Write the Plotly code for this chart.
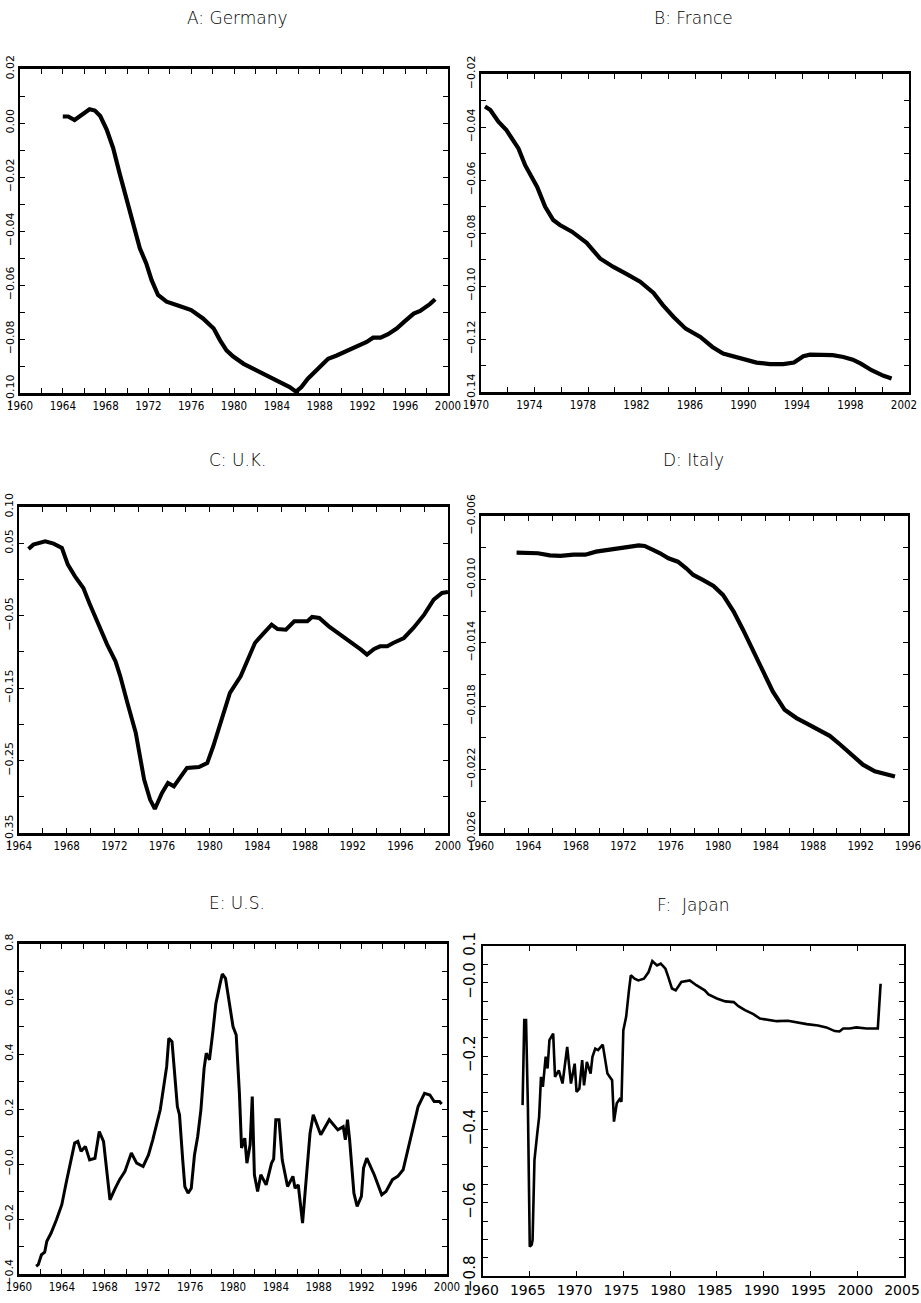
import plotly.graph_objects as go

# ---------------- data ----------------
germany_year = [1964.0, 1964.5, 1965.1, 1965.8, 1966.5, 1967.0, 1967.5, 1968.1, 1968.7, 1969.3,
                1970.0, 1970.6, 1971.2, 1971.8, 1972.3, 1972.9, 1973.7, 1974.9, 1976.0, 1977.1,
                1978.1, 1978.7, 1979.3, 1979.9, 1980.9, 1982.1, 1983.1, 1984.3, 1985.2, 1985.8,
                1986.3, 1986.9, 1988.0, 1988.8, 1989.6, 1990.5, 1991.5, 1992.4, 1993.0, 1993.7,
                1994.4, 1995.2, 1996.0, 1996.8, 1997.4, 1997.9, 1998.3, 1998.8]
germany_val = [0.0024, 0.0024, 0.0011, 0.0029, 0.0051, 0.0046, 0.0026, -0.0024, -0.0092, -0.0185,
               -0.0284, -0.0383, -0.0464, -0.0520, -0.0582, -0.0637, -0.0662, -0.0678, -0.0693, -0.0724,
               -0.0761, -0.0805, -0.0842, -0.0864, -0.0892, -0.0916, -0.0935, -0.0960, -0.0978, -0.0995,
               -0.0978, -0.0947, -0.0904, -0.0873, -0.0861, -0.0844, -0.0826, -0.0811, -0.0795, -0.0795,
               -0.0782, -0.0761, -0.0733, -0.0706, -0.0696, -0.0683, -0.0671, -0.0653]

france_year = [1970.3, 1970.7, 1971.3, 1971.9, 1972.8, 1973.3, 1974.2, 1974.8, 1975.4, 1975.9,
               1976.8, 1977.9, 1978.9, 1979.9, 1980.9, 1981.9, 1982.9, 1983.6, 1984.4, 1985.3,
               1986.4, 1987.3, 1988.1, 1988.9, 1989.7, 1990.6, 1991.6, 1992.6, 1993.4, 1994.1,
               1994.6, 1995.6, 1996.3, 1997.1, 1997.8, 1998.4, 1999.2, 2000.1, 2000.7]
france_val = [-0.0323, -0.0336, -0.0380, -0.0412, -0.0481, -0.0544, -0.0626, -0.0701, -0.0751, -0.0770,
              -0.0795, -0.0837, -0.0896, -0.0928, -0.0955, -0.0984, -0.1026, -0.1072, -0.1117, -0.1161,
              -0.1192, -0.1230, -0.1255, -0.1265, -0.1274, -0.1289, -0.1295, -0.1295, -0.1289, -0.1265,
              -0.1259, -0.1259, -0.1261, -0.1268, -0.1278, -0.1293, -0.1318, -0.1339, -0.1349]

uk_year = [1964.8, 1965.2, 1966.2, 1966.9, 1967.6, 1968.1, 1968.7, 1969.4, 1969.9, 1970.7,
           1971.4, 1972.1, 1972.5, 1973.1, 1973.8, 1974.5, 1975.0, 1975.4, 1976.0, 1976.5,
           1977.0, 1977.5, 1978.1, 1979.1, 1979.8, 1980.3, 1980.8, 1981.7, 1982.6, 1983.1,
           1983.8, 1984.5, 1985.2, 1985.7, 1986.4, 1987.1, 1988.2, 1988.6, 1989.2, 1990.0,
           1991.0, 1992.0, 1992.7, 1993.2, 1993.8, 1994.3, 1994.9, 1995.4, 1996.3, 1997.1,
           1998.0, 1998.8, 1999.5, 2000.0]
uk_val = [0.0420, 0.0480, 0.0526, 0.0494, 0.0434, 0.0204, 0.0043, -0.0118, -0.0325, -0.0647,
          -0.0900, -0.1130, -0.1337, -0.1705, -0.2119, -0.2763, -0.3039, -0.3168, -0.2947, -0.2810,
          -0.2856, -0.2740, -0.2602, -0.2588, -0.2533, -0.2303, -0.2027, -0.1567, -0.1337, -0.1153,
          -0.0877, -0.0748, -0.0624, -0.0684, -0.0693, -0.0578, -0.0578, -0.0518, -0.0532, -0.0647,
          -0.0762, -0.0877, -0.0969, -0.1038, -0.0960, -0.0923, -0.0923, -0.0877, -0.0808, -0.0670,
          -0.0486, -0.0279, -0.0187, -0.0173]

italy_year = [1963.0, 1963.85, 1964.8, 1965.8, 1966.7, 1967.8, 1968.8, 1969.7, 1970.9, 1971.7,
              1972.6, 1973.3, 1973.8, 1974.5, 1975.1, 1975.8, 1976.6, 1977.3, 1977.9, 1978.7,
              1979.6, 1980.4, 1981.3, 1982.1, 1982.9, 1983.8, 1984.6, 1985.6, 1986.6, 1987.4,
              1988.4, 1989.4, 1990.3, 1991.2, 1992.2, 1993.2, 1994.2, 1994.9]
italy_val = [-0.00831, -0.00835, -0.00835, -0.00848, -0.00852, -0.00844, -0.00844, -0.00825, -0.00814, -0.00804,
             -0.00793, -0.00785, -0.00789, -0.00814, -0.00835, -0.00867, -0.00888, -0.00930, -0.00972, -0.01003,
             -0.01041, -0.01098, -0.01203, -0.01319, -0.01445, -0.01592, -0.01707, -0.01823, -0.01875, -0.01907,
             -0.01949, -0.01987, -0.02043, -0.02106, -0.02169, -0.02211, -0.02232, -0.02243]

us_year = [1961.6, 1961.8, 1962.1, 1962.4, 1962.6, 1963.0, 1963.5, 1964.0, 1964.4, 1964.9,
           1965.2, 1965.5, 1965.8, 1966.2, 1966.6, 1967.1, 1967.5, 1967.9, 1968.5, 1969.0,
           1969.4, 1969.9, 1970.5, 1971.0, 1971.6, 1972.1, 1972.5, 1973.2, 1973.8, 1974.0,
           1974.3, 1974.8, 1975.0, 1975.3, 1975.5, 1975.8, 1976.1, 1976.4, 1976.7, 1977.0,
           1977.3, 1977.5, 1977.8, 1978.1, 1978.4, 1978.8, 1979.0, 1979.3, 1979.7, 1980.0,
           1980.3, 1980.6, 1980.8, 1981.1, 1981.3, 1981.6, 1981.8, 1982.0, 1982.3, 1982.6,
           1983.1, 1983.6, 1983.8, 1984.0, 1984.3, 1984.6, 1985.1, 1985.4, 1985.6, 1985.8,
           1986.1, 1986.5, 1987.2, 1987.5, 1988.2, 1989.0, 1989.8, 1990.3, 1990.5, 1990.7,
           1990.9, 1991.3, 1991.6, 1992.0, 1992.2, 1992.5, 1993.2, 1993.9, 1994.3, 1994.9,
           1995.4, 1995.9, 1996.5, 1997.3, 1997.9, 1998.4, 1998.8, 1999.3, 1999.5]
us_val = [-0.372, -0.366, -0.330, -0.321, -0.281, -0.251, -0.203, -0.148, -0.070, 0.015,
          0.076, 0.082, 0.046, 0.064, 0.015, 0.021, 0.118, 0.082, -0.130, -0.088,
          -0.057, -0.027, 0.040, 0.003, -0.009, 0.033, 0.088, 0.197, 0.354, 0.457,
          0.445, 0.209, 0.179, 0.015, -0.082, -0.106, -0.088, 0.033, 0.100, 0.197,
          0.348, 0.403, 0.379, 0.475, 0.584, 0.657, 0.691, 0.675, 0.566, 0.500,
          0.469, 0.257, 0.058, 0.094, 0.003, 0.070, 0.245, -0.039, -0.100, -0.039,
          -0.076, 0.003, 0.018, 0.161, 0.161, 0.015, -0.082, -0.057, -0.045, -0.088,
          -0.076, -0.215, 0.112, 0.179, 0.106, 0.161, 0.124, 0.136, 0.088, 0.161,
          0.088, -0.106, -0.154, -0.118, -0.015, 0.021, -0.039, -0.112, -0.100, -0.057,
          -0.045, -0.021, 0.076, 0.209, 0.257, 0.251, 0.227, 0.227, 0.218]

japan_year = [1964.23, 1964.41, 1964.6, 1964.8, 1965.0, 1965.2, 1965.3, 1965.5, 1965.8, 1966.0,
              1966.2, 1966.4, 1966.7, 1966.9, 1967.1, 1967.5, 1967.7, 1968.1, 1968.5, 1969.0,
              1969.4, 1969.8, 1970.0, 1970.3, 1970.6, 1970.8, 1971.1, 1971.5, 1971.7, 1972.0,
              1972.3, 1972.8, 1973.3, 1973.8, 1974.0, 1974.3, 1974.6, 1974.8, 1975.0, 1975.3,
              1975.6, 1975.8, 1976.2, 1976.6, 1977.2, 1977.7, 1978.1, 1978.6, 1979.0, 1979.5,
              1979.8, 1980.2, 1980.6, 1981.2, 1982.1, 1982.8, 1983.7, 1984.1, 1985.0, 1985.9,
              1986.8, 1987.3, 1988.0, 1988.9, 1989.6, 1990.5, 1991.4, 1992.6, 1993.5, 1994.6,
              1995.8, 1996.7, 1997.6, 1998.1, 1998.5, 1999.2, 1999.9, 2001.0, 2002.2, 2002.5]
japan_val = [-0.334, -0.102, -0.102, -0.339, -0.720, -0.715, -0.702, -0.484, -0.411, -0.366,
             -0.257, -0.284, -0.202, -0.234, -0.157, -0.139, -0.257, -0.239, -0.275, -0.175,
             -0.275, -0.221, -0.298, -0.289, -0.211, -0.280, -0.216, -0.248, -0.202, -0.180,
             -0.184, -0.169, -0.248, -0.266, -0.379, -0.329, -0.318, -0.325, -0.130, -0.093,
             -0.021, 0.020, 0.011, 0.006, 0.011, 0.029, 0.059, 0.047, 0.052, 0.038,
             0.016, -0.016, -0.021, 0.002, 0.006, -0.007, -0.021, -0.032, -0.043, -0.051,
             -0.053, -0.064, -0.075, -0.086, -0.098, -0.101, -0.105, -0.104, -0.109, -0.113,
             -0.117, -0.122, -0.132, -0.133, -0.125, -0.125, -0.122, -0.125, -0.125, -0.003]

titles = ["A: Germany", "B: France", "C: U.K.", "D: Italy", "E: U.S.", "F:  Japan"]

# tick labels
yt_A = [0.02, 0.00, -0.02, -0.04, -0.06, -0.08, -0.10]
yl_A = ["0.02", "0.00", "−0.02", "−0.04", "−0.06", "−0.08", "−0.10"]
yt_B = [-0.02, -0.04, -0.06, -0.08, -0.10, -0.12, -0.14]
yl_B = ["−0.02", "−0.04", "−0.06", "−0.08", "−0.10", "−0.12", "−0.14"]
yt_C = [0.10, 0.05, -0.05, -0.15, -0.25, -0.35]
yl_C = ["0.10", "0.05", "−0.05", "−0.15", "−0.25", "−0.35"]
yt_D = [-0.006, -0.010, -0.014, -0.018, -0.022, -0.026]
yl_D = ["−0.006", "−0.010", "−0.014", "−0.018", "−0.022", "−0.026"]
yt_E = [0.8, 0.6, 0.4, 0.2, 0.0, -0.2, -0.4]
yl_E = ["0.8", "0.6", "0.4", "0.2", "−0.0", "−0.2", "−0.4"]
yt_F = [0.1, 0.0, -0.2, -0.4, -0.6, -0.8]
yl_F = ["0.1", "−0.0", "−0.2", "−0.4", "−0.6", "−0.8"]

# ---------------- layout geometry (pixels of a 921x1303 page) ----------------
W, H = 921, 1303
boxes = {  # left, top, right, bottom in px
    1: (20, 69, 448, 393),
    2: (481, 74, 909, 392),
    3: (19, 507, 448, 833),
    4: (481, 516, 908, 833),
    5: (19, 944, 447, 1274),
    6: (483, 946, 904, 1276),
}
title_pos = {1: (237, 18), 2: (693, 18), 3: (237, 460), 4: (693, 460), 5: (237, 903), 6: (693, 905)}
label_shift = {1: 0, 2: -5, 3: 0, 4: 0, 5: 0, 6: -2}

series = {
    1: (germany_year, germany_val, 4.2),
    2: (france_year, france_val, 4.2),
    3: (uk_year, uk_val, 4.0),
    4: (italy_year, italy_val, 4.2),
    5: (us_year, us_val, 3.0),
    6: (japan_year, japan_val, 2.6),
}

xspec = {
    1: ((1960, 2000), list(range(1960, 2001, 4)), 2),
    2: ((1970, 2002), list(range(1970, 2003, 4)), 2),
    3: ((1964, 2000), list(range(1964, 2001, 4)), 2),
    4: ((1960, 1996), list(range(1960, 1997, 4)), 2),
    5: ((1960, 2000), list(range(1960, 2001, 4)), 2),
    6: ((1960, 2005), list(range(1960, 2006, 5)), None),
}
yspec = {
    1: ((-0.10, 0.02), yt_A, yl_A, 0.01),
    2: ((-0.14, -0.02), yt_B, yl_B, 0.01),
    3: ((-0.35, 0.10), yt_C, yl_C, 0.05),
    4: ((-0.026, -0.006), yt_D, yl_D, 0.002),
    5: ((-0.4, 0.8), yt_E, yl_E, 0.1),
    6: ((-0.8, 0.1), yt_F, yl_F, 0.05),
}

narrow = "Liberation Sans Narrow, DejaVu Sans Condensed, Roboto, sans-serif"
mono = "DejaVu Sans, Verdana, sans-serif"

fig = go.Figure()
layout = dict(width=W, height=H, margin=dict(l=0, r=0, t=0, b=0, autoexpand=False),
              paper_bgcolor="white", plot_bgcolor="white", showlegend=False,
              annotations=[])

for i in range(1, 7):
    xs, ys, lw = series[i]
    sfx = "" if i == 1 else str(i)
    fig.add_trace(go.Scatter(x=xs, y=ys, mode="lines",
                             line=dict(color="black", width=lw),
                             xaxis="x" + sfx, yaxis="y" + sfx, hoverinfo="skip"))
    l, t, r, b = boxes[i]
    xr, xticks, xminor = xspec[i]
    yr, yvals, ytext, yminor = yspec[i]
    jp = (i == 6)
    xa = dict(domain=[l / W, r / W], range=list(xr), anchor="y" + sfx, automargin=False,
              tickmode="array", tickvals=xticks, ticktext=[str(v) for v in xticks],
              ticklabeloverflow="allow", ticklabelshift=label_shift[i],
              ticks="inside", ticklen=5, tickwidth=1, tickcolor="black",
              showline=True, linecolor="black", linewidth=2.8 if not jp else 2,
              mirror="ticks", showgrid=False, zeroline=False,
              tickfont=dict(family=mono if jp else narrow, size=14 if jp else 11.5, color="black"))
    if xminor:
        xa["minor"] = dict(dtick=xminor, tick0=xr[0], ticks="inside", ticklen=5,
                           tickcolor="black", showgrid=False)
    ya = dict(domain=[1 - b / H, 1 - t / H], range=list(yr), anchor="x" + sfx, automargin=False,
              tickmode="array", tickvals=yvals, ticktext=ytext, tickangle=-90,
              ticklabeloverflow="allow",
              ticks="inside", ticklen=5, tickwidth=1, tickcolor="black",
              showline=True, linecolor="black", linewidth=1.5 if not jp else 2,
              mirror="ticks", showgrid=False, zeroline=False,
              minor=dict(dtick=yminor, tick0=yr[0], ticks="inside", ticklen=5,
                         tickcolor="black", showgrid=False),
              tickfont=dict(family=mono, size=15 if jp else 11, color="black"))
    layout["xaxis" + sfx] = xa
    layout["yaxis" + sfx] = ya
    tx, ty = title_pos[i]
    layout["annotations"].append(dict(text=titles[i - 1], x=tx / W, y=1 - ty / H,
                                      xref="paper", yref="paper", showarrow=False,
                                      xanchor="center", yanchor="middle",
                                      font=dict(family="DejaVu Sans, sans-serif", size=17,
                                                weight=200, color="black")))

fig.update_layout(**layout)
fig.write_html("out.html")
